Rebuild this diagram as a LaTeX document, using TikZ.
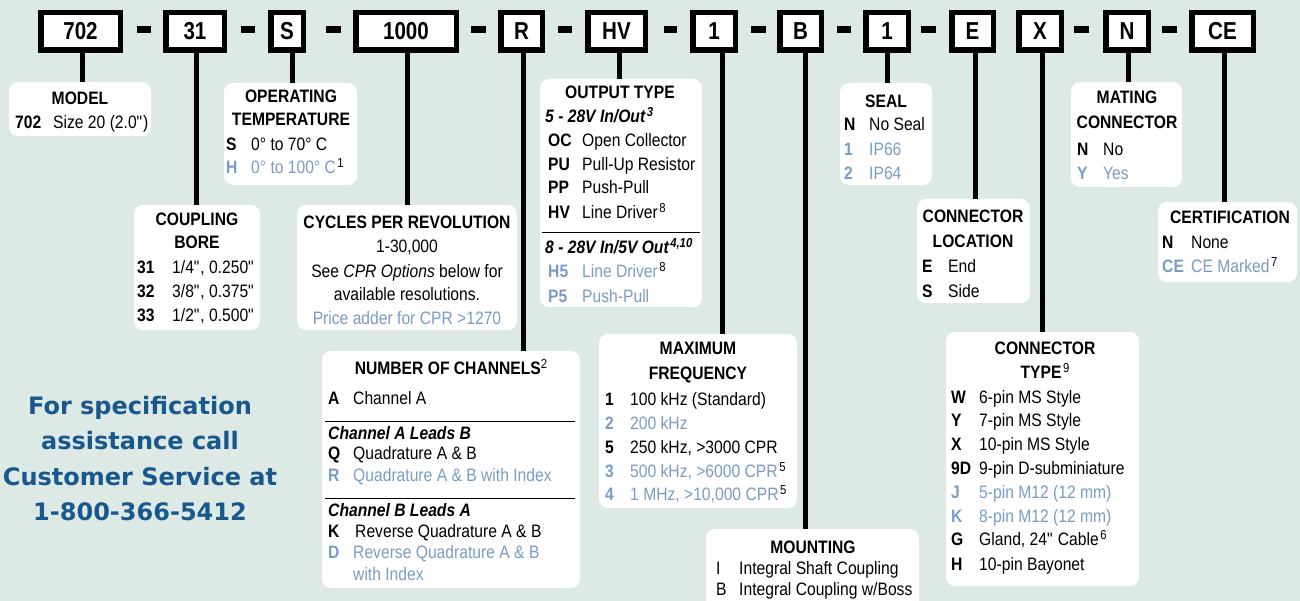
\documentclass[tikz,border=0pt]{standalone}
\usepackage{fontspec}
\setmainfont{Liberation Sans}[FakeStretch=0.87]
\newfontfamily\codefont{Liberation Sans}[FakeStretch=0.84]
\newfontfamily\callfont{DejaVu Sans}
\definecolor{bgcol}{RGB}{221,233,228}
\definecolor{lb}{RGB}{122,156,199}
\definecolor{callblue}{RGB}{24,88,140}
\newcommand\bodyfs{\fontsize{18pt}{21pt}\selectfont}
\newcommand\sups[1]{\kern1.5pt\raisebox{6pt}{\fontsize{13pt}{13pt}\selectfont #1}}
\newcommand\qq{\textquotedbl}
\tikzset{
  codebox/.style={draw=black, line width=5.5pt, fill=white, minimum height=37.5pt, inner sep=0pt,
    font=\codefont\bfseries\fontsize{24.5pt}{24.5pt}\selectfont},
  dashbar/.style={fill=black},
  infobox/.style={fill=white, rounded corners=9pt, inner sep=0pt},
  stem/.style={line width=5pt},
  sepline/.style={line width=1pt},
  t/.style={anchor=base west, inner sep=0pt, font=\bodyfs},
  tb/.style={t, font=\bodyfs\bfseries},
  bi/.style={t, font=\bodyfs\bfseries\itshape},
  tc/.style={anchor=base, inner sep=0pt, font=\bodyfs},
  ttl/.style={anchor=base, inner sep=0pt, font=\bodyfs\bfseries},
  blue/.style={text=lb},
  call/.style={anchor=base, inner sep=0pt, text=callblue, font=\callfont\bfseries\fontsize{24pt}{28pt}\selectfont}
}
\begin{document}
\begin{tikzpicture}[x=1pt,y=-1pt]
\fill[bgcol] (0,0) rectangle (1300,601);
\useasboundingbox (0,0) rectangle (1300,601);
\clip (0,0) rectangle (1300,601);

% ---------- info boxes ----------
\node[infobox, minimum width=142pt, minimum height=54pt]  (model)    at (80,109) {};
\node[infobox, minimum width=133pt, minimum height=102pt] (optemp)   at (290.5,134) {};
\node[infobox, minimum width=126pt, minimum height=125pt] (coupling) at (197,267.5) {};
\node[infobox, minimum width=220pt, minimum height=125pt] (cycles)   at (407,267.5) {};
\node[infobox, minimum width=162pt, minimum height=228pt] (output)   at (621,193) {};
\node[infobox, minimum width=92pt,  minimum height=102pt] (seal)     at (886,134) {};
\node[infobox, minimum width=113pt, minimum height=104pt] (connloc)  at (973.5,251) {};
\node[infobox, minimum width=111pt, minimum height=105pt] (mating)   at (1126.5,134.5) {};
\node[infobox, minimum width=139pt, minimum height=80pt]  (cert)     at (1227.5,242) {};
\node[infobox, minimum width=258pt, minimum height=237pt] (channels) at (451,469.5) {};
\node[infobox, minimum width=198pt, minimum height=174pt] (maxfreq)  at (698,421) {};
\node[infobox, minimum width=213pt, minimum height=101pt] (mounting) at (812.5,579.5) {};
\node[infobox, minimum width=193pt, minimum height=254pt] (conntype) at (1042.5,459) {};

% ---------- code boxes ----------
\node[codebox, minimum width=79.5pt]  (c702)  at (80.5,31.5)  {702};
\node[codebox, minimum width=58.5pt]  (c31)   at (195,31.5)   {31};
\node[codebox, minimum width=32.5pt]  (cS)    at (287,31.5)   {S};
\node[codebox, minimum width=100.5pt] (c1000) at (406,31.5)   {1000};
\node[codebox, minimum width=41.5pt]  (cR)    at (521.5,31.5) {R};
\node[codebox, minimum width=57.5pt]  (cHV)   at (616.5,31.5) {HV};
\node[codebox, minimum width=42.5pt]  (cF)    at (714,31.5)   {1};
\node[codebox, minimum width=41.5pt]  (cB)    at (800.5,31.5) {B};
\node[codebox, minimum width=42.5pt]  (cSeal) at (887,31.5)   {1};
\node[codebox, minimum width=41.5pt]  (cE)    at (972.5,31.5) {E};
\node[codebox, minimum width=42.5pt]  (cX)    at (1040,31.5)  {X};
\node[codebox, minimum width=42.5pt]  (cN)    at (1127,31.5)  {N};
\node[codebox, minimum width=61.5pt]  (cCE)   at (1222.5,31.5){CE};

% dashes between codes
\foreach \a/\b in {137/151,241/255,326/341,471/486,558/572,664/677,751/766,837/851,921/936,1074/1089,1162/1177}
  \fill[dashbar] (\a,26) rectangle (\b,33);

% ---------- stems ----------
\draw[stem] (82,0 |- c702.south)   -- (82,0 |- model.north);
\draw[stem] (196,0 |- c31.south)   -- (196,0 |- coupling.north);
\draw[stem] (292,0 |- cS.south)    -- (292,0 |- optemp.north);
\draw[stem] (407,0 |- c1000.south) -- (407,0 |- cycles.north);
\draw[stem] (523,0 |- cR.south)    -- (523,0 |- channels.north);
\draw[stem] (619,0 |- cHV.south)   -- (619,0 |- output.north);
\draw[stem] (722,0 |- cF.south)    -- (722,0 |- maxfreq.north);
\draw[stem] (805,0 |- cB.south)    -- (805,0 |- mounting.north);
\draw[stem] (887,0 |- cSeal.south) -- (887,0 |- seal.north);
\draw[stem] (975,0 |- cE.south)    -- (975,0 |- connloc.north);
\draw[stem] (1042,0 |- cX.south)   -- (1042,0 |- conntype.north);
\draw[stem] (1128,0 |- cN.south)   -- (1128,0 |- mating.north);
\draw[stem] (1224,0 |- cCE.south)  -- (1224,0 |- cert.north);

% ---------- MODEL ----------
\node[ttl] (mT) at (80,105) {MODEL};
\node[tb] (m1c) at (15,129) {702};
\node[t]  (m1d) at (53,129) {Size 20 (2.0\qq)};

% ---------- OPERATING TEMPERATURE ----------
\node[ttl] (oT1) at (291,103) {OPERATING};
\node[ttl] (oT2) at (291,126) {TEMPERATURE};
\node[tb] (o1c) at (226,151) {S};
\node[t]  (o1d) at (251,151) {0° to 70° C};
\node[tb,blue] (o2c) at (226,174) {H};
\node[t]  (o2d) at (251,174) {\textcolor{lb}{0° to 100° C}\sups{1}};

% ---------- COUPLING BORE ----------
\node[ttl] (cbT1) at (197,226) {COUPLING};
\node[ttl] (cbT2) at (197,249) {BORE};
\node[tb] (cb1c) at (137,274) {31};
\node[t]  (cb1d) at (172,274) {1/4\qq, 0.250\qq};
\node[tb] (cb2c) at (137,298) {32};
\node[t]  (cb2d) at (172,298) {3/8\qq, 0.375\qq};
\node[tb] (cb3c) at (137,322) {33};
\node[t]  (cb3d) at (172,322) {1/2\qq, 0.500\qq};

% ---------- CYCLES PER REVOLUTION ----------
\node[ttl] (cyT) at (407,229) {CYCLES PER REVOLUTION};
\node[tc] (cy1) at (407,253) {1-30,000};
\node[tc] (cy2) at (407,278) {See \textit{CPR Options} below for};
\node[tc] (cy3) at (407,301) {available resolutions.};
\node[tc,blue] (cy4) at (407,324) {Price adder for CPR >1270};

% ---------- OUTPUT TYPE ----------
\node[ttl] (otT) at (620,99) {OUTPUT TYPE};
\node[bi] (otH1) at (545,123) {5 - 28V In/Out\sups{3}};
\node[tb] (ot1c) at (548,147) {OC};
\node[t]  (ot1d) at (582,147) {Open Collector};
\node[tb] (ot2c) at (548,171) {PU};
\node[t]  (ot2d) at (582,171) {Pull-Up Resistor};
\node[tb] (ot3c) at (548,194) {PP};
\node[t]  (ot3d) at (582,194) {Push-Pull};
\node[tb] (ot4c) at (548,219) {HV};
\node[t]  (ot4d) at (582,219) {Line Driver\sups{8}};
\draw[sepline] (542,233) -- (700,233);
\node[bi] (otH2) at (545,254) {8 - 28V In/5V Out\sups{4,10}};
\node[tb,blue] (ot5c) at (548,278) {H5};
\node[t]  (ot5d) at (582,278) {\textcolor{lb}{Line Driver}\sups{8}};
\node[tb,blue] (ot6c) at (548,302) {P5};
\node[t,blue] (ot6d) at (582,302) {Push-Pull};

% ---------- SEAL ----------
\node[ttl] (sT) at (886,108) {SEAL};
\node[tb] (s1c) at (844,131) {N};
\node[t]  (s1d) at (869,131) {No Seal};
\node[tb,blue] (s2c) at (844,156) {1};
\node[t,blue]  (s2d) at (869,156) {IP66};
\node[tb,blue] (s3c) at (844,180) {2};
\node[t,blue]  (s3d) at (869,180) {IP64};

% ---------- CONNECTOR LOCATION ----------
\node[ttl] (clT1) at (973,223) {CONNECTOR};
\node[ttl] (clT2) at (973,248) {LOCATION};
\node[tb] (cl1c) at (922,273) {E};
\node[t]  (cl1d) at (948,273) {End};
\node[tb] (cl2c) at (922,298) {S};
\node[t]  (cl2d) at (948,298) {Side};

% ---------- MATING CONNECTOR ----------
\node[ttl] (mcT1) at (1127,104) {MATING};
\node[ttl] (mcT2) at (1127,129) {CONNECTOR};
\node[tb] (mc1c) at (1077,156) {N};
\node[t]  (mc1d) at (1103,156) {No};
\node[tb,blue] (mc2c) at (1077,180) {Y};
\node[t,blue]  (mc2d) at (1103,180) {Yes};

% ---------- CERTIFICATION ----------
\node[ttl] (ceT) at (1230,224) {CERTIFICATION};
\node[tb] (ce1c) at (1162,249) {N};
\node[t]  (ce1d) at (1191,249) {None};
\node[tb,blue] (ce2c) at (1162,273) {CE};
\node[t]  (ce2d) at (1191,273) {\textcolor{lb}{CE Marked}\sups{7}};

% ---------- NUMBER OF CHANNELS ----------
\node[ttl] (chT) at (451,374) {NUMBER OF CHANNELS\kern-1.5pt\sups{\mdseries 2}};
\node[tb] (ch1c) at (328,404) {A};
\node[t]  (ch1d) at (353,404) {Channel A};
\draw[sepline] (325,421) -- (575,421);
\node[bi] (chH1) at (328,439) {Channel A Leads B};
\node[tb] (ch2c) at (328,459) {Q};
\node[t]  (ch2d) at (353,459) {Quadrature A \& B};
\node[tb,blue] (ch3c) at (328,481) {R};
\node[t,blue]  (ch3d) at (353,481) {Quadrature A \& B with Index};
\draw[sepline] (325,498) -- (575,498);
\node[bi] (chH2) at (328,516) {Channel B Leads A};
\node[tb] (ch4c) at (328,537) {K};
\node[t]  (ch4d) at (355,537) {Reverse Quadrature A \& B};
\node[tb,blue] (ch5c) at (328,558) {D};
\node[t,blue]  (ch5d) at (353,558) {Reverse Quadrature A \& B};
\node[t,blue]  (ch5e) at (353,580) {with Index};

% ---------- MAXIMUM FREQUENCY ----------
\node[ttl] (mfT1) at (698,354) {MAXIMUM};
\node[ttl] (mfT2) at (698,379) {FREQUENCY};
\node[tb] (mf1c) at (605,405) {1};
\node[t]  (mf1d) at (630,405) {100 kHz (Standard)};
\node[tb,blue] (mf2c) at (605,429) {2};
\node[t,blue]  (mf2d) at (630,429) {200 kHz};
\node[tb] (mf3c) at (605,453) {5};
\node[t]  (mf3d) at (630,453) {250 kHz, >3000 CPR};
\node[tb,blue] (mf4c) at (605,477) {3};
\node[t]  (mf4d) at (630,477) {\textcolor{lb}{500 kHz, >6000 CPR}\sups{5}};
\node[tb,blue] (mf5c) at (605,500) {4};
\node[t]  (mf5d) at (630,500) {\textcolor{lb}{1 MHz, >10,000 CPR}\sups{5}};

% ---------- MOUNTING ----------
\node[ttl] (moT) at (813,553) {MOUNTING};
\node[t] (mo1c) at (716,574) {I};
\node[t] (mo1d) at (739,574) {Integral Shaft Coupling};
\node[t] (mo2c) at (716,595) {B};
\node[t] (mo2d) at (739,595) {Integral Coupling w/Boss};

% ---------- CONNECTOR TYPE ----------
\node[ttl] (ctT1) at (1045,354) {CONNECTOR};
\node[ttl] (ctT2) at (1045,378) {TYPE\sups{\mdseries 9}};
\node[tb] (ct1c) at (951,403) {W};
\node[t]  (ct1d) at (979,403) {6-pin MS Style};
\node[tb] (ct2c) at (951,426) {Y};
\node[t]  (ct2d) at (979,426) {7-pin MS Style};
\node[tb] (ct3c) at (951,450) {X};
\node[t]  (ct3d) at (979,450) {10-pin MS Style};
\node[tb] (ct4c) at (951,474) {9D};
\node[t]  (ct4d) at (979,474) {9-pin D-subminiature};
\node[tb,blue] (ct5c) at (951,498) {J};
\node[t,blue]  (ct5d) at (979,498) {5-pin M12 (12 mm)};
\node[tb,blue] (ct6c) at (951,522) {K};
\node[t,blue]  (ct6d) at (979,522) {8-pin M12 (12 mm)};
\node[tb] (ct7c) at (951,545) {G};
\node[t]  (ct7d) at (979,545) {Gland, 24\qq{} Cable\sups{6}};
\node[tb] (ct8c) at (951,570) {H};
\node[t]  (ct8d) at (979,570) {10-pin Bayonet};

% ---------- call text ----------
\node[call] (cs1) at (140,414) {For specification};
\node[call] (cs2) at (140,449) {assistance call};
\node[call] (cs3) at (140,485) {Customer Service at};
\node[call] (cs4) at (140,520) {1-800-366-5412};
\end{tikzpicture}
\end{document}
